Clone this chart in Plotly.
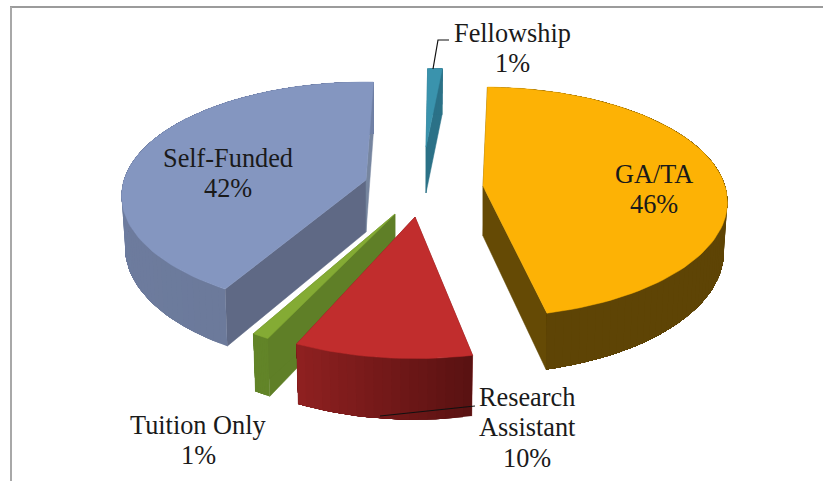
import math
import plotly.graph_objects as go

# ---- data ----
categories = ["GA/TA", "Research Assistant", "Tuition Only", "Self-Funded", "Fellowship"]
shares = [46, 10, 1, 42, 1]
label_lines = [["GA/TA", "46%"], ["Research", "Assistant", "10%"], ["Tuition Only", "1%"],
               ["Self-Funded", "42%"], ["Fellowship", "1%"]]

# ---- style / projection ----
start_deg = 2.0
A, B, PERSP = 242.0, 111.7, 0.14
apex = [(483, 186), (415, 217), (395, 214), (366, 180), (426, 147)]
depth = [50, 54, 52, 52, 46]
sx = [1.0, 1.03, 1.0, 1.0, 1.1]
sy = [1.01, 1.09, 1.1, 1.0, 0.8]
rot = [-0.8, 0.9, 3.8, 3.6, 2.0]
top_col = ["#fdb205", "#c12d2d", "#84ab34", "#8496c0", "#3a93ad"]
wall_col = ["#654a05", "#7a1c1c", "#5f7f27", "#5f6985", "#2b7187"]
end_wall_col = ["#654a05", "#7a1c1c", "#5f7f27", "#76859f", "#2b7187"]
arc_from = [(123, 88, 6), (90, 18, 18), (98, 132, 40), (108, 122, 155), (43, 113, 135)]
arc_to = [(94, 68, 5), (142, 32, 32), (98, 132, 40), (112, 128, 165), (43, 113, 135)]
draw_order = [3, 4, 0, 2, 1]
label_xy = [(654, 174), (527, 397), (198, 425), (228, 158), (512, 33)]
LINE_H = 30.5
font_size = 26.3


def proj(i, theta, bottom=False):
    s, c = math.sin(theta), math.cos(theta)
    w = 1 + PERSP * c
    x = A * s / w * sx[i]
    y = -B * c / w * sy[i]
    if bottom:
        x *= 0.985
        y *= 1 + 0.025 * (1 - c)
        return apex[i][0] + x, apex[i][1] + depth[i] + y
    return apex[i][0] + x, apex[i][1] + y


def poly(pts, fill, lw=0.0):
    xs = [p[0] for p in pts] + [pts[0][0]]
    ys = [p[1] for p in pts] + [pts[0][1]]
    return go.Scatter(x=xs, y=ys, mode="lines", fill="toself", fillcolor=fill,
                      line=dict(color=fill, width=lw), hoverinfo="skip", showlegend=False)


fig = go.Figure()
total = sum(shares)
angles = []
cur = math.radians(start_deg)
for v in shares:
    nxt = cur + 2 * math.pi * v / total
    angles.append((cur, nxt))
    cur = nxt

for i in draw_order:
    t0 = angles[i][0] + math.radians(rot[i])
    t1 = angles[i][1] + math.radians(rot[i])
    n = max(8, int(shares[i] * 2))
    ts = [t0 + (t1 - t0) * k / n for k in range(n + 1)]
    ax, ay = apex[i]
    a_top = (ax, ay)
    a_bot = (ax, ay + depth[i])
    # radial walls
    fig.add_trace(poly([a_top, proj(i, t0), proj(i, t0, True), a_bot], wall_col[i], 0.5))
    fig.add_trace(poly([a_top, proj(i, t1), proj(i, t1, True), a_bot], end_wall_col[i], 0.5))
    # curved wall: each band runs to the far end so no seams show between bands
    for k in range(n):
        f = k / max(1, n - 1)
        if i == 0:
            f = min(1.0, f * 5)
        rgb = tuple(round(arc_from[i][j] + (arc_to[i][j] - arc_from[i][j]) * f) for j in range(3))
        rest = ts[k:]
        fig.add_trace(poly([proj(i, t) for t in rest] + [proj(i, t, True) for t in reversed(rest)],
                           "rgb(%d,%d,%d)" % rgb))
    # top face
    fig.add_trace(poly([a_top] + [proj(i, t) for t in ts], top_col[i], 0.5))

# leader lines
leaders = [([433, 438, 449], [69, 40, 40]), ([380, 470, 475], [416, 406, 406])]
for lx, ly in leaders:
    fig.add_trace(go.Scatter(x=lx, y=ly, mode="lines", line=dict(color="#111111", width=1.2),
                             hoverinfo="skip", showlegend=False))

# labels
for (cx, cy), lines in zip(label_xy, label_lines):
    for j, t in enumerate(lines):
        fig.add_annotation(x=cx, y=cy + j * LINE_H, text=t, showarrow=False,
                           xanchor="center", yanchor="middle",
                           font=dict(family="Liberation Serif", size=font_size, color="#1a1a1a"))

fig.update_layout(
    width=823, height=481, margin=dict(l=0, r=0, t=0, b=0), autosize=False,
    paper_bgcolor="white", plot_bgcolor="white", showlegend=False,
    xaxis=dict(range=[0, 823], visible=False, fixedrange=True),
    yaxis=dict(range=[481, 0], visible=False, fixedrange=True),
    shapes=[
        dict(type="line", xref="x", yref="y", x0=10, y0=7, x1=823, y1=7, line=dict(color="#7a7a7a", width=1.5)),
        dict(type="line", xref="x", yref="y", x0=11, y0=7, x1=11, y1=481, line=dict(color="#a8a8a8", width=2)),
    ],
)
fig.write_html("out.html", config={"displayModeBar": False},
               post_script="document.body.style.margin='0';document.documentElement.style.overflow='hidden';")
